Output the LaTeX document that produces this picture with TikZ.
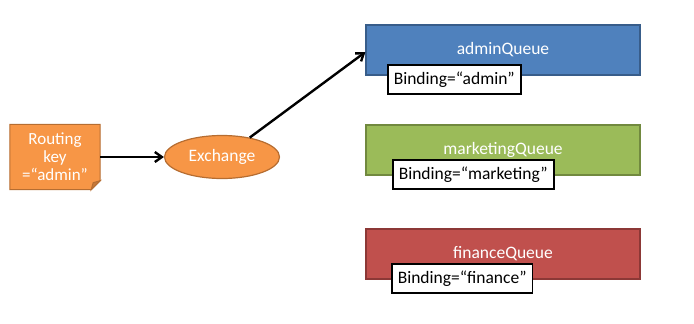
\documentclass[tikz,border=0pt]{standalone}
\usepackage{fontspec}
\setmainfont{Carlito}
\usepackage{tikz}
\usetikzlibrary{arrows.meta,positioning,shapes.geometric,backgrounds}
\definecolor{keyfill}{HTML}{F79646}
\definecolor{keyedge}{HTML}{B66D31}
\definecolor{adminfill}{HTML}{4F81BD}
\definecolor{adminedge}{HTML}{385D8A}
\definecolor{mktfill}{HTML}{9BBB59}
\definecolor{mktedge}{HTML}{71893F}
\definecolor{finfill}{HTML}{C0504D}
\definecolor{finedge}{HTML}{8C3836}

\begin{document}
\begin{tikzpicture}[x=1pt,y=-1pt,>={Straight Barb[length=7pt,width=10pt]}]
  \tikzset{
    queuebox/.style={rectangle,line width=1.2pt,minimum width=274pt,minimum height=50pt,
      text=white,font=\fontsize{17.5}{20}\selectfont},
    bindbox/.style={rectangle,draw=black,line width=1.5pt,fill=white,anchor=west,
      minimum height=29pt,inner xsep=6pt,font=\fontsize{17.5}{20}\selectfont},
    flow/.style={line width=2.4pt,->}
  }
  \useasboundingbox (0,0) rectangle (694,324);
  % the key note, with its folded corner
  \node[minimum width=90pt,minimum height=65pt,align=center,text=white,
    font=\fontsize{17}{18}\selectfont] (key) at (55,157) {Routing\\key\\=“admin”};
  \begin{scope}[on background layer]
    \filldraw[fill=keyfill,draw=keyedge,line width=1pt]
      (key.north west) -- (key.north east) -- ([yshift=9pt]key.south east)
      -- ([xshift=-9pt]key.south east) -- (key.south west) -- cycle;
    \filldraw[fill=keyfill!80!black,draw=keyedge,line width=1pt]
      ([yshift=9pt]key.south east) -- ([xshift=-9pt]key.south east)
      -- ([xshift=-7pt,yshift=7pt]key.south east) -- cycle;
  \end{scope}
  \node[ellipse,fill=keyfill,draw=keyedge,line width=1.2pt,minimum width=115pt,
    minimum height=43pt,inner sep=1pt,text=white,font=\fontsize{17.5}{20}\selectfont]
    (ex) at (222,157) {Exchange};
  % queues
  \node[queuebox,fill=adminfill,draw=adminedge] (admin) at (503,50) {adminQueue};
  \node[queuebox,fill=mktfill,draw=mktedge] (mkt) at (503,150) {marketingQueue};
  \node[queuebox,fill=finfill,draw=finedge] (fin) at (503,254) {financeQueue};
  \node[bindbox] (badmin) at (387,79.5) {Binding=“admin”};
  \node[bindbox] (bmkt) at (392,174.5) {Binding=“marketing”};
  \node[bindbox] (bfin) at (391,278.5) {Binding=“finance”};
  % arrows
  \draw[flow] (key.east) -- (ex.west);
  \draw[flow] (ex.35) -- ([yshift=-2pt]admin.west);
\end{tikzpicture}
\end{document}
